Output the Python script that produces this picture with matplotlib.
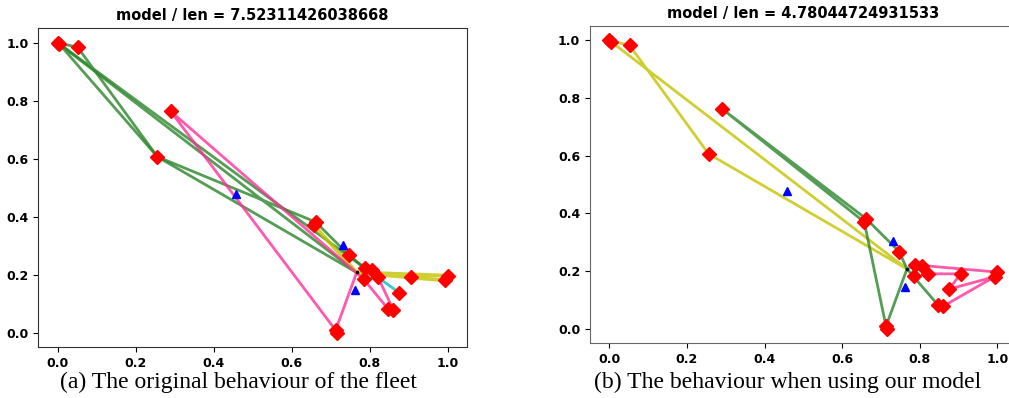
import matplotlib
matplotlib.use("Agg")
import matplotlib.pyplot as plt

# node 0 is the depot, the rest are customers
node_x = [0.767, 0.0, 0.005, 0.052, 0.29, 0.256, 0.662, 0.657, 0.747, 0.789, 0.806,
          0.822, 0.785, 0.905, 1.0, 0.993, 0.876, 0.847, 0.861, 0.713, 0.716]
node_y = [0.207, 1.0, 0.994, 0.983, 0.763, 0.606, 0.381, 0.37, 0.267, 0.221, 0.217,
          0.19, 0.184, 0.19, 0.196, 0.18, 0.137, 0.082, 0.078, 0.008, 0.0]

# vehicles (blue triangles)
veh_x = [0.458, 0.731, 0.763]
veh_y = [0.477, 0.303, 0.146]

titles = ["model / len = 7.52311426038668", "model / len = 4.78044724931533"]
captions = ["(a) The original behaviour of the fleet",
            "(b) The behaviour when using our model"]

# routes as node index sequences, with their colour
routes_a = [
    ([9, 1, 3, 5, 0], "#2a852a"),
    ([0, 2, 5, 6, 8, 9], "#2a852a"),
    ([7, 0, 14, 15, 13, 0], "#c4c400"),
    ([12, 11, 16], "#00bfbf"),
    ([0, 19, 4, 12, 17, 18, 11], "#ff2f9a"),
]
routes_b = [
    ([0, 1, 3, 5, 0], "#c4c400"),
    ([0, 19, 7, 4, 6, 8, 0, 17], "#2a852a"),
    ([18, 15, 14, 9, 11, 13, 16, 15], "#ff2f9a"),
    ([0, 9, 10], "#00bfbf"),
]

fig = plt.figure(figsize=(10.09, 3.98), dpi=100)
ax_a = fig.add_axes([0.0377, 0.1281, 0.4252, 0.8015])
ax_b = fig.add_axes([0.5847, 0.1382, 0.4230, 0.7965])


def draw(ax, routes, title, yellow_lw, spine_col):
    for idx, col in routes:
        xs = [node_x[i] for i in idx]
        ys = [node_y[i] for i in idx]
        lw = yellow_lw if col == "#c4c400" else 2.0
        ax.plot(xs, ys, color=col, lw=lw, alpha=0.8, zorder=2)
    ax.plot(node_x[1:], node_y[1:], "D", color="red", ms=7, zorder=3)
    ax.plot(veh_x, veh_y, "^", color="blue", ms=6, zorder=4)
    ax.plot(node_x[0], node_y[0], ".", color="black", ms=3, zorder=5)
    ax.set_xlim(-0.05, 1.05)
    ax.set_ylim(-0.05, 1.05)
    ax.set_xticks([0, 0.2, 0.4, 0.6, 0.8, 1.0])
    ax.set_yticks([0, 0.2, 0.4, 0.6, 0.8, 1.0])
    ax.set_title(title, fontsize=10.5, fontweight="bold", pad=6)
    for lab in ax.get_xticklabels() + ax.get_yticklabels():
        lab.set_fontsize(9)
        lab.set_fontweight("bold")
    for s in ax.spines.values():
        s.set_color(spine_col)


draw(ax_a, routes_a, titles[0], 2.8, "#333333")
draw(ax_b, routes_b, titles[1], 2.0, "#666666")

fig.text(0.236, 0.038, captions[0], ha="center", va="center",
         family="Liberation Serif", fontsize=17)
fig.text(0.781, 0.038, captions[1], ha="center", va="center",
         family="Liberation Serif", fontsize=17)

fig.savefig("out.png", dpi=100)
